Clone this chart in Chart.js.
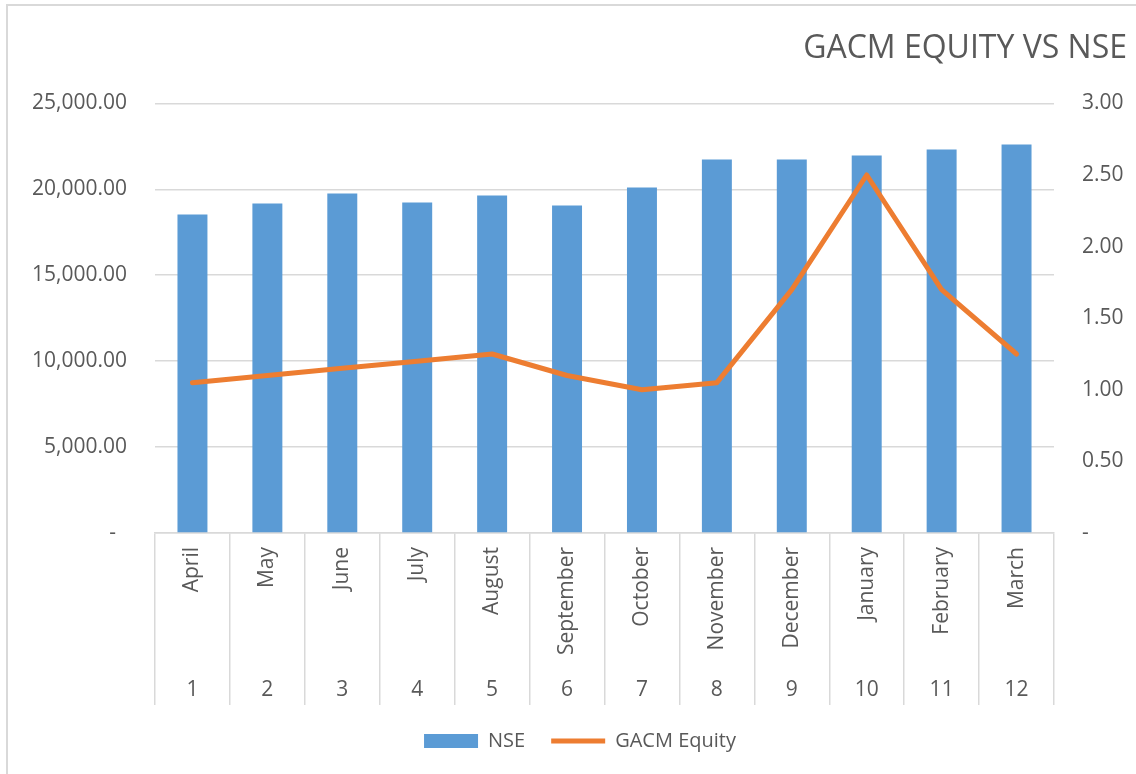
<!DOCTYPE html>
<html>
<head>
<meta charset="utf-8">
<title>GACM Equity vs NSE</title>
<script src="https://cdn.jsdelivr.net/npm/chart.js@4.4.0/dist/chart.umd.min.js"></script>
<style>
    html, body { margin: 0; padding: 0; background: #fff; overflow: hidden; }
    #frame { position: absolute; left: 6px; top: 4px; width: 1200px; height: 820px;
             border-left: 2px solid #d9d9d9; border-top: 2px solid #d9d9d9; }
    #wrap { position: absolute; left: 0; top: 0; width: 1136px; height: 774px; }
</style>
</head>
<body>
<div id="frame"></div>
<div id="wrap"><canvas id="gacmChart"></canvas></div>
<script>
// Dados
const months = ['April', 'May', 'June', 'July', 'August', 'September',
                'October', 'November', 'December', 'January', 'February', 'March'];
const monthNumbers = ['1', '2', '3', '4', '5', '6', '7', '8', '9', '10', '11', '12'];
const nseValues = [18530, 19170, 19755, 19230, 19640, 19055, 20105, 21735, 21735, 21970, 22320, 22610];
const gacmValues = [1.05, 1.10, 1.15, 1.20, 1.25, 1.10, 1.00, 1.05, 1.70, 2.50, 1.70, 1.25];

const TEXT = '#595959';
const GRID = '#d9d9d9';

Chart.defaults.font.family = "'Open Sans', sans-serif";
Chart.defaults.color = TEXT;

function formatLeft(value) {
    if (value === 0) return '-  ';
    return value.toLocaleString('en-US', { minimumFractionDigits: 2, maximumFractionDigits: 2 });
}

function formatRight(value) {
    if (value === 0) return '-';
    return value.toFixed(2);
}

const ctx = document.getElementById('gacmChart').getContext('2d');

new Chart(ctx, {
    type: 'bar',
    data: {
        labels: months,
        datasets: [
            {
                label: 'NSE',
                data: nseValues,
                backgroundColor: '#5B9BD5',
                borderWidth: 0,
                categoryPercentage: 1,
                barPercentage: 0.4,
                pointStyle: 'rect',
                xAxisID: 'x',
                yAxisID: 'y',
                order: 2
            },
            {
                type: 'line',
                label: 'GACM Equity',
                data: gacmValues,
                borderColor: '#ED7D31',
                backgroundColor: '#ED7D31',
                borderWidth: 5,
                borderCapStyle: 'round',
                borderJoinStyle: 'round',
                tension: 0,
                pointRadius: 0,
                pointHoverRadius: 0,
                pointStyle: 'line',
                xAxisID: 'x',
                yAxisID: 'y1',
                order: 1
            }
        ]
    },
    options: {
        responsive: true,
        maintainAspectRatio: false,
        animation: false,
        layout: { padding: { left: 33, right: 9, top: 0, bottom: 13 } },
        plugins: {
            title: {
                display: true,
                text: 'GACM EQUITY VS NSE',
                align: 'end',
                color: TEXT,
                font: { size: 32, weight: 'normal' },
                padding: { top: 30, bottom: 35 }
            },
            legend: {
                position: 'bottom',
                labels: {
                    usePointStyle: true,
                    pointStyleWidth: 54,
                    boxHeight: 14,
                    padding: 26,
                    color: TEXT,
                    font: { size: 20 },
                    sort: (a, b) => a.datasetIndex - b.datasetIndex
                }
            },
            tooltip: { enabled: false }
        },
        scales: {
            x: {
                type: 'category',
                position: 'bottom',
                offset: true,
                grid: {
                    display: true,
                    offset: true,
                    drawOnChartArea: false,
                    drawTicks: true,
                    tickLength: 124,
                    color: GRID,
                    lineWidth: 1.5
                },
                border: { display: true, color: GRID, width: 1.5 },
                ticks: {
                    minRotation: 90,
                    maxRotation: 90,
                    autoSkip: false,
                    padding: -110,
                    font: { size: 21 }
                },
                afterFit: (scale) => { scale.height = 124; }
            },
            xNum: {
                type: 'category',
                position: 'bottom',
                labels: monthNumbers,
                offset: true,
                grid: {
                    display: true,
                    offset: true,
                    drawOnChartArea: false,
                    drawTicks: true,
                    tickLength: 48,
                    color: GRID,
                    lineWidth: 1.5
                },
                border: { display: false },
                ticks: {
                    maxRotation: 0,
                    autoSkip: false,
                    padding: -28,
                    font: { size: 21 }
                },
                afterFit: (scale) => { scale.height = 48; }
            },
            y: {
                position: 'left',
                min: 0,
                max: 25000,
                grid: { color: GRID, lineWidth: 1.5, drawTicks: false },
                border: { display: false },
                ticks: {
                    stepSize: 5000,
                    padding: 28,
                    font: { size: 21 },
                    callback: (value) => formatLeft(value)
                },
                afterFit: (scale) => { scale.width = 122; }
            },
            y1: {
                position: 'right',
                min: 0,
                max: 3,
                grid: { drawOnChartArea: false, drawTicks: false },
                border: { display: false },
                ticks: {
                    stepSize: 0.5,
                    padding: 28,
                    font: { size: 21 },
                    callback: (value) => formatRight(value)
                },
                afterFit: (scale) => { scale.width = 73; }
            }
        }
    }
});
</script>
</body>
</html>
